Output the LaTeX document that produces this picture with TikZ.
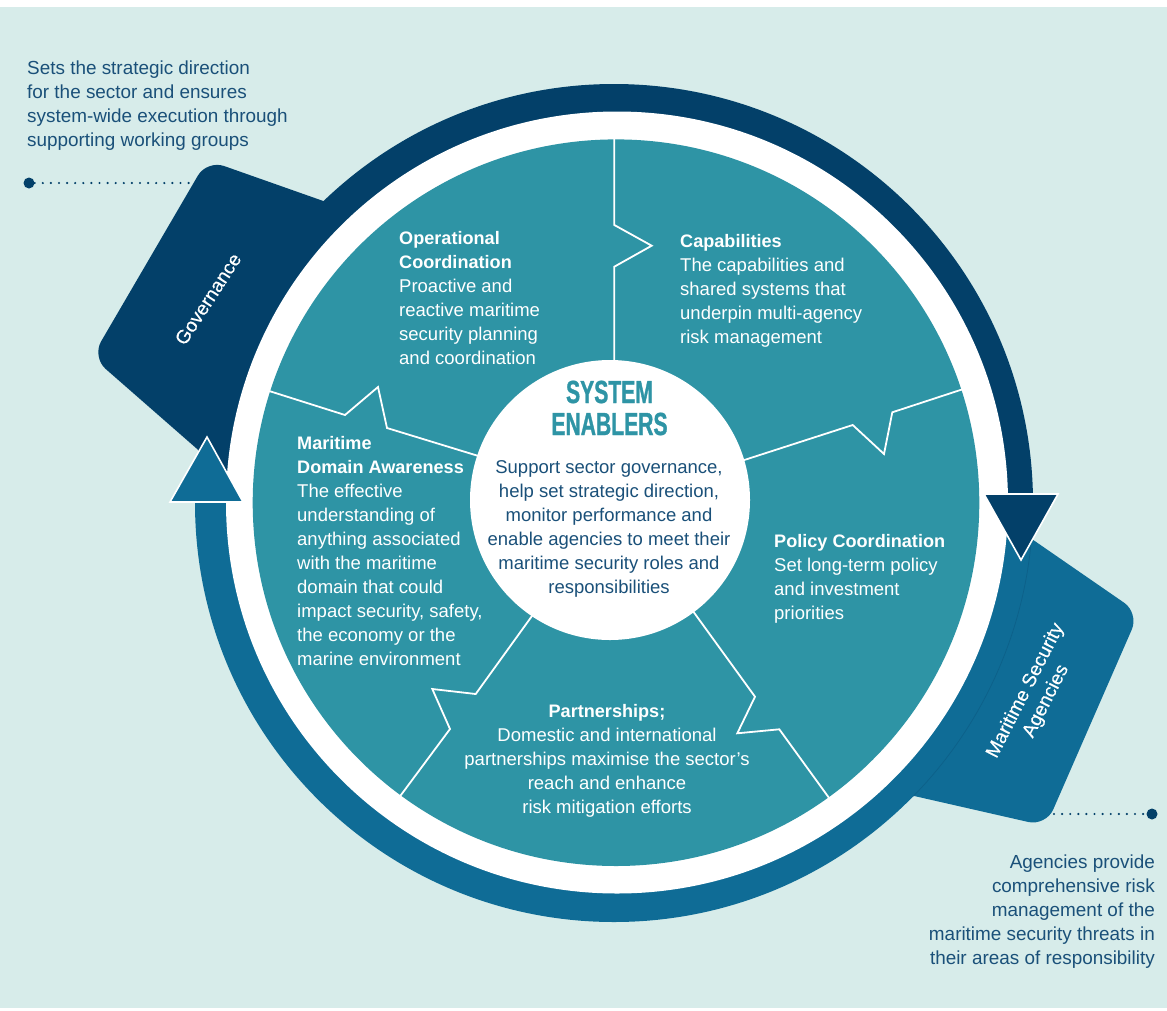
\documentclass[tikz,border=0pt]{standalone}
\usepackage{fontspec}
\setmainfont{Liberation Sans}
\newfontfamily\condfont[FakeStretch=0.66,FakeBold=1]{Liberation Sans Bold}
\newfontfamily\medfont[FakeBold=0.35]{Liberation Sans}
\definecolor{bgc}{HTML}{D7ECEA}
\definecolor{navyc}{HTML}{034069}
\definecolor{bluec}{HTML}{0F6C96}
\definecolor{bluedk}{HTML}{0D6089}
\definecolor{tealc}{HTML}{2E94A5}
\definecolor{textc}{HTML}{1A5079}
\newcommand{\fs}{\rule{0pt}{14pt}}
\newcommand{\hd}[1]{\textbf{\fontsize{18.1}{24}\selectfont #1}}
\tikzset{
  bodytext/.style={font=\fontsize{18.5}{24}\selectfont, inner sep=0pt, align=left, anchor=north west},
  intext/.style={bodytext, text=white},
  outtext/.style={bodytext, text=textc},
  outwide/.style={bodytext, font=\fontsize{18.9}{24}\selectfont, text=textc},
  boxlabel/.style={font=\medfont\fontsize{19.2}{23}\selectfont, inner sep=0pt, align=center, text=white},
  zig/.style={draw=white, line width=1.8pt, line join=miter},
  dotline/.style={draw=navyc, line width=2.4pt, line cap=round, dash pattern=on 0pt off 8.1pt},
  enddot/.style={circle, fill=navyc, inner sep=0pt, minimum size=11pt},
  arrowhd/.style={draw=white, line width=1.6pt, line join=miter}
}
\begin{document}
\begin{tikzpicture}[x=1pt,y=-1pt]
\useasboundingbox (0,0) rectangle (1167,1010);
\fill[white] (0,0) rectangle (1167,1010);
\fill[bgc] (0,7) rectangle (1167,1008);
% tabs
\fill[navyc, rounded corners=18pt] (380,221) -- (207,160) -- (92,357) -- (300,539) -- cycle;
\fill[bluec, rounded corners=18pt] (800,770) -- (1046,826) -- (1139,613) -- (900,448) -- cycle;
% ring
\begin{scope}
  \clip (0,0) rectangle (1167,498);
  \fill[navyc] (614,503) circle[radius=419];
\end{scope}
\begin{scope}
  \clip (0,498) rectangle (1167,1010);
  \fill[bluec] (614,503) circle[radius=419];
\end{scope}
\draw[bluedk, line width=0.7pt] plot[domain=5.8:44.4, samples=60] ({614+419*cos(\x)},{503+419*sin(\x)});
\fill[white] (617,502.5) circle[radius=391];
% disc
\fill[tealc] (616,502.7) circle[radius=363.3];
% zigzags
\draw[zig] (614.3,135) -- (614.3,225) -- (651.7,245.7) -- (614.3,266.7) -- (614.3,370);
\draw[zig] (735,463) -- (852.7,425) -- (884,454) -- (892.3,412.3) -- (968,387.5);
\draw[zig] (690,607) -- (755,696.7) -- (737.3,733.3) -- (779.3,729.3) -- (832,802);
\draw[zig] (537,609) -- (475.7,694) -- (432.3,689) -- (450,729) -- (398,799);
\draw[zig] (266,390) -- (345,415) -- (378,387) -- (387,428) -- (485,458);
% centre
\node[circle, fill=white, minimum size=280pt, inner sep=0pt] (hub) at (610,500) {};
% arrowheads
\draw[arrowhd, fill=bluec] (207,437) -- (243,502) -- (170,502) -- cycle;
\draw[arrowhd, fill=navyc] (984,494) -- (1058,494) -- (1021,560) -- cycle;
% labels on tabs
\node[boxlabel, rotate=57] (gov) at (208,299) {Governance};
\node[boxlabel, rotate=63] (msa) at (1036,696) {Maritime Security\\Agencies};
% outer text
\node[outwide] (t1) at (27,60.5) {\fs Sets the strategic direction\\for the sector and ensures\\system-wide execution through\\supporting working groups};
\node[outwide, align=right, anchor=north east] (t2) at (1155,854.5) {\fs Agencies provide\\comprehensive risk\\management of the\\maritime security threats in\\their areas of responsibility};
% dotted leaders
\node[enddot] (d1) at (29,183) {};
\coordinate (e1) at (196,183);
\draw[dotline] (d1) -- (e1);
\node[enddot] (d2) at (1152,814) {};
\coordinate (e2) at (1054,814);
\draw[dotline] (e2) -- (d2);
% wedge text
\node[intext] (w1) at (399,230.5) {\fs\hd{Operational}\\\hd{Coordination}\\Proactive and\\reactive maritime\\security planning\\and coordination};
\node[intext] (w2) at (680,233.5) {\fs\hd{Capabilities}\\The capabilities and\\shared systems that\\underpin multi-agency\\risk management};
\node[intext] (w3) at (774,533.5) {\fs\hd{Policy Coordination}\\Set long-term policy\\and investment\\priorities};
\node[intext, align=center, anchor=north] (w4) at (607,703.5) {\fs\hd{Partnerships;}\\Domestic and international\\partnerships maximise the sector’s\\reach and enhance\\risk mitigation efforts};
\node[intext] (w5) at (297,435.5) {\fs\hd{Maritime}\\\hd{Domain Awareness}\\The effective\\understanding of\\anything associated\\with the maritime\\domain that could\\impact security, safety,\\the economy or the\\marine environment};
% hub text
\node[font=\condfont\fontsize{32}{32}\selectfont, text=tealc, inner sep=0pt, align=center] (hubt) at (609.5,408) {SYSTEM\\ENABLERS};
\node[outtext, align=center, anchor=north] (hubb) at (609,459.5) {\fs Support sector governance,\\help set strategic direction,\\monitor performance and\\enable agencies to meet their\\maritime security roles and\\responsibilities};
\end{tikzpicture}
\end{document}
